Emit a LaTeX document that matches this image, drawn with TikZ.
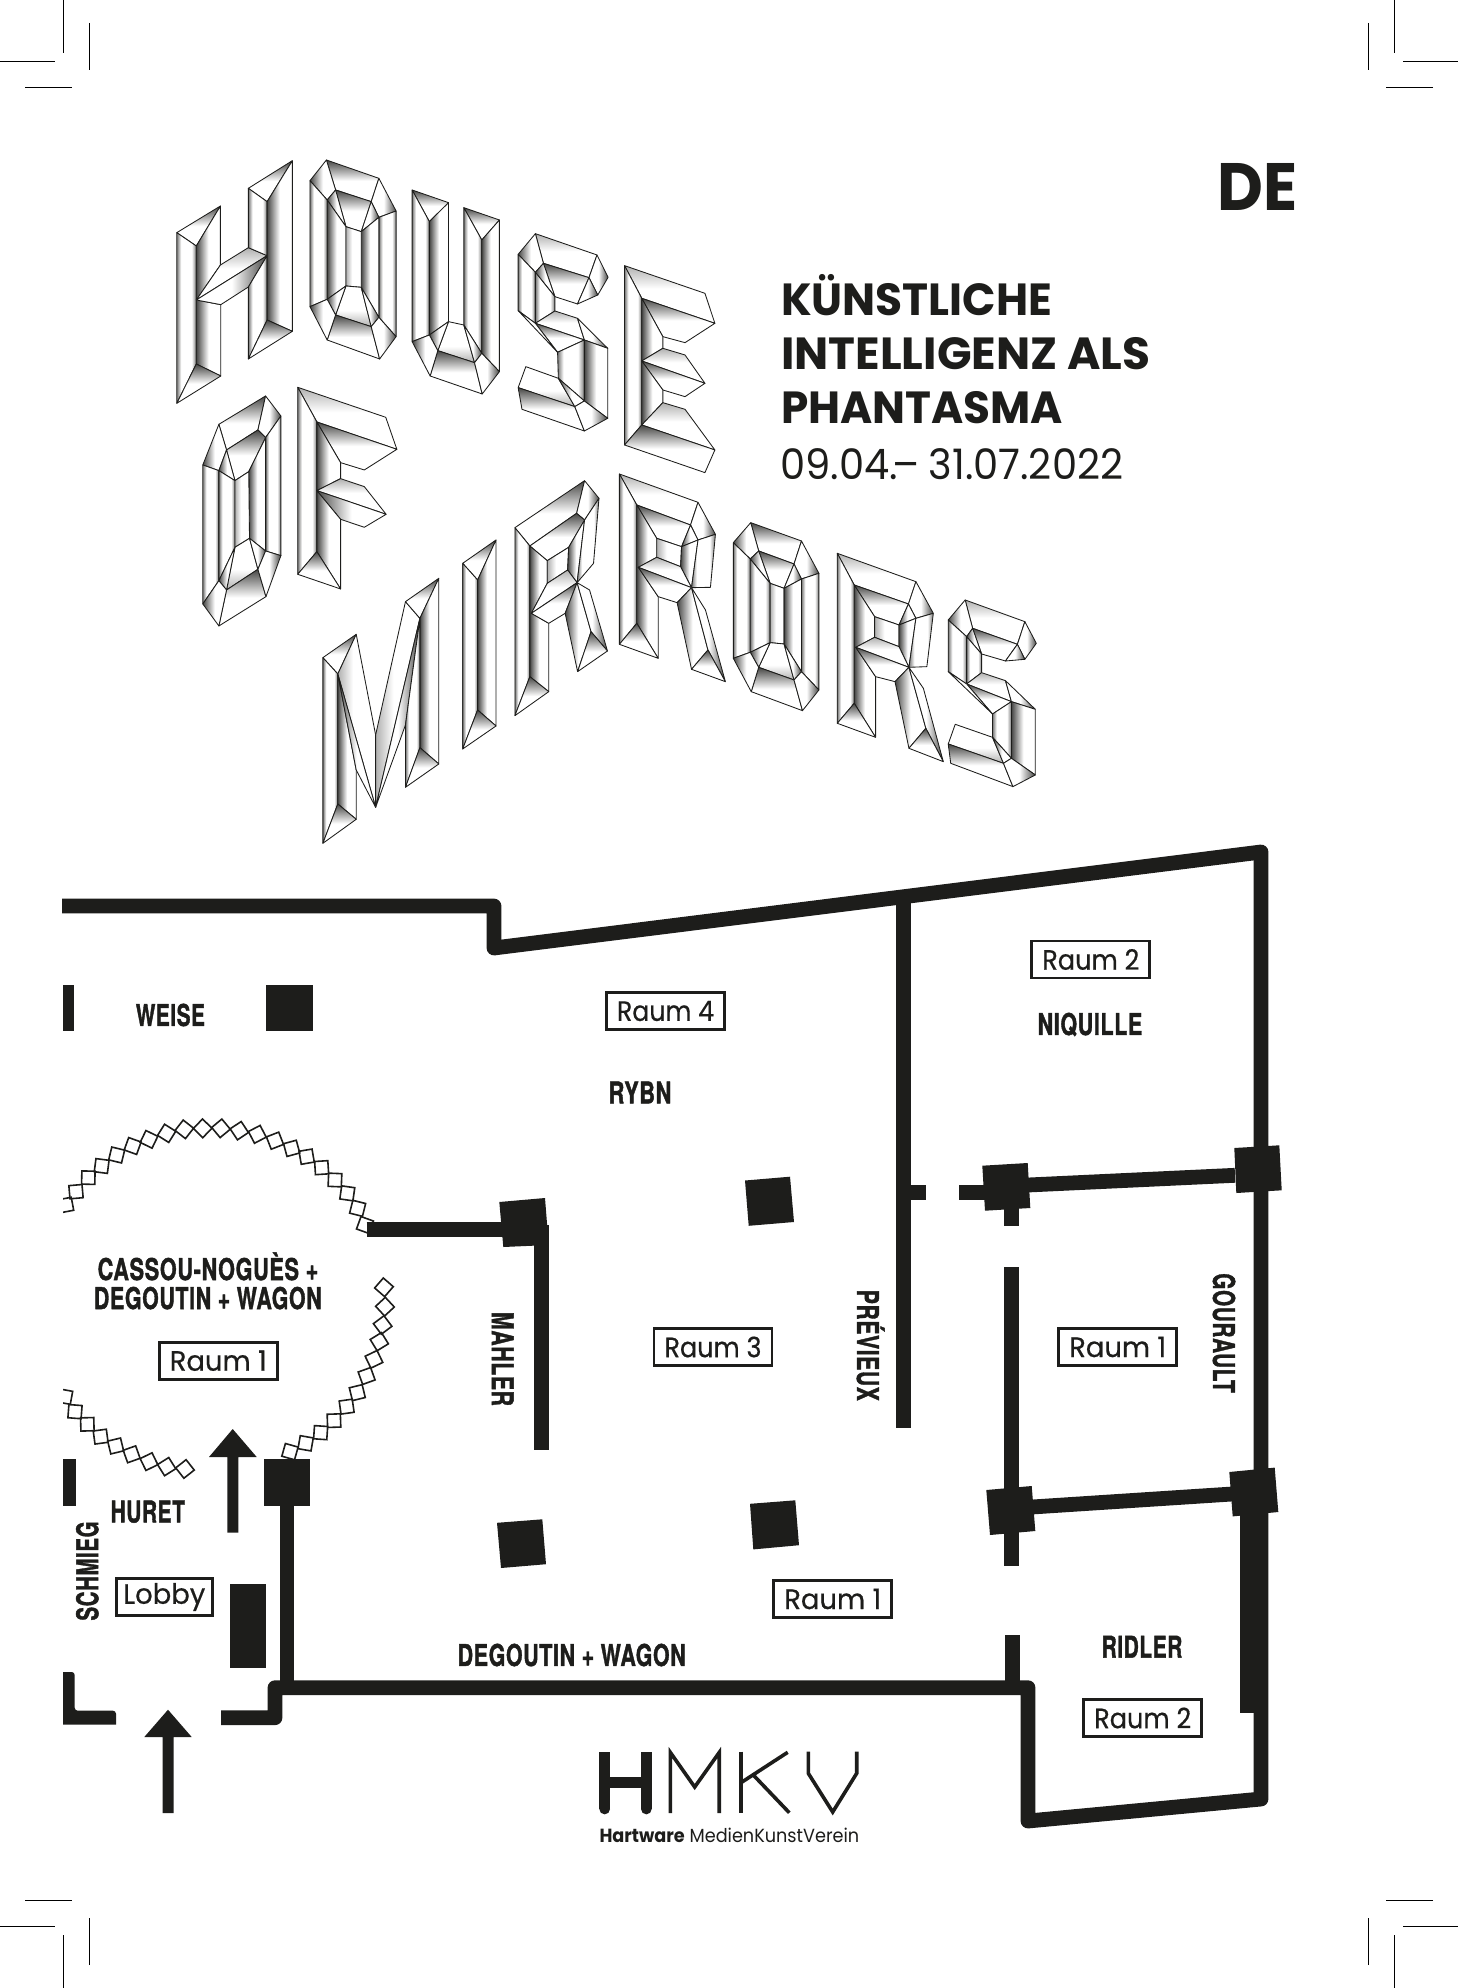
\documentclass[tikz,border=0pt]{standalone}
\usepackage{fontspec}
\usepackage{graphicx}
\setmainfont{Poppins}
\newfontfamily\raumfont[FakeBold=0.5]{Poppins}
\newfontfamily\labfont[Scale=1,LetterSpace=3,BoldFeatures={FakeBold=1.6,LetterSpace=3}]{TeX Gyre Heros}
\definecolor{ink}{HTML}{1D1D1B}
\pgfdeclarehorizontalshading{mirA}{100bp}{color(0bp)=(ink!82!white); color(25bp)=(ink!82!white); color(50bp)=(white); color(100bp)=(white)}
\pgfdeclarehorizontalshading{mirS}{100bp}{color(0bp)=(ink!35!white); color(25bp)=(ink!35!white); color(45bp)=(white); color(100bp)=(white)}
\pgfdeclarehorizontalshading{mirD}{100bp}{color(0bp)=(ink!60!white); color(25bp)=(ink!60!white); color(36bp)=(white); color(63bp)=(white); color(75bp)=(ink!60!white); color(100bp)=(ink!60!white)}
\tikzset{
  facet/.style={draw=ink,line width=0.85pt,line join=round,shade},
  fT/.style={shading=mirA,shading angle=270},
  fB/.style={shading=mirS,shading angle=90},
  fL/.style={shading=mirA,shading angle=0},
  fR/.style={shading=mirA,shading angle=180},
  fD/.style={shading=mirD,shading angle=0},
  fM/.style={shading=mirS,shading angle=270},
  fW/.style={shading=mirS,shading angle=0},
  wall/.style={draw=ink,line width=14.8pt,line join=round,line cap=butt},
  crop/.style={draw=black,line width=1pt},
  diam/.style={draw=ink,line width=1.6pt,line join=miter},
  raum/.style={draw=ink,line width=2.9pt,minimum width=118pt,minimum height=37pt,inner sep=0pt,text=ink},
  lbl/.style={inner sep=0pt,text=ink},
  title/.style={inner sep=0pt,text=ink,anchor=base west},
}
\newcommand\F[2]{\path[facet,#1] plot coordinates {#2} -- cycle;}
\newcommand\lab[2]{\resizebox{#1pt}{\height}{\labfont\bfseries\fontsize{30}{32}\selectfont #2}}
\newcommand\wid[2]{\resizebox{#1pt}{\height}{#2}}
\newcommand\rtxt[2][97]{\resizebox{#1pt}{\height}{\raumfont\fontsize{28}{30}\selectfont #2}}
\begin{document}
\begin{tikzpicture}[x=1pt,y=-1pt]
\useasboundingbox (0,0) rectangle (1458,1988);
\fill[white] (0,0) rectangle (1458,1988);
% crop marks
\foreach \sx/\ox in {1/0,-1/1458}{
 \foreach \sy/\oy in {1/0,-1/1988}{
  \begin{scope}[shift={(\ox,\oy)},x=\sx pt,y=-\sy pt]
   \draw[crop] (63.3,0) -- (63.3,52.7);
   \draw[crop] (0,61.3) -- (55,61.3);
   \draw[crop] (89.3,23) -- (89.3,69.7);
   \draw[crop] (25,87.3) -- (71.7,87.3);
  \end{scope}
 }
}
% ---------- HOUSE OF
\begin{scope}[shift={(150,140)},x=0.3827pt,y=-0.3333pt]
% H
\F{fT}{(70,278) (184,198) (121,318)}
\F{fD}{(70,278) (121,318) (121,672) (70,790)}
\F{fL}{(121,318) (184,198) (184,375) (121,480)}
\F{fL}{(121,480) (185,494) (185,708) (121,672)}
\F{fT}{(121,672) (185,708) (70,790)}
\F{fM}{(121,480) (184,375) (257,323) (306,347)}
\F{fR}{(121,480) (306,347) (257,441) (185,494)}
\F{fT}{(257,145) (372,62) (306,185)}
\F{fD}{(257,145) (306,185) (306,347) (257,323)}
\F{fD}{(257,441) (306,347) (306,540) (257,657)}
\F{fL}{(306,185) (372,62) (372,574) (306,540)}
\F{fT}{(306,540) (372,574) (257,657)}
% O
\F{fT}{(461,60) (598,115) (578,185) (485,150)}
\F{fL}{(418,122) (461,60) (485,150) (463,180)}
\F{fR}{(598,115) (643,213) (598,232) (578,185)}
\F{fD}{(418,122) (463,180) (463,478) (418,500)}
\F{fD}{(598,232) (643,213) (643,590) (598,532)}
\F{fT}{(485,150) (578,185) (552,275) (512,260)}
\F{fL}{(463,180) (485,150) (512,260)}
\F{fR}{(578,185) (598,232) (552,275)}
\F{fL}{(463,180) (512,260) (512,438) (463,478)}
\F{fL}{(552,275) (598,232) (598,532) (552,442)}
\F{fW}{(512,260) (552,275) (552,442) (512,438)}
\F{fB}{(512,438) (552,442) (578,560) (485,525)}
\F{fL}{(463,478) (512,438) (485,525)}
\F{fR}{(552,442) (598,532) (578,560)}
\F{fT}{(485,525) (578,560) (600,657) (463,600)}
\F{fL}{(418,500) (463,478) (485,525) (463,600)}
\F{fR}{(598,532) (643,590) (600,657) (578,560)}
% U
\F{fT}{(685,150) (780,188) (730,245)}
\F{fD}{(685,150) (730,245) (730,585) (685,605)}
\F{fL}{(730,245) (780,188) (780,545) (730,585)}
\F{fT}{(820,203) (913,240) (867,300)}
\F{fD}{(820,203) (867,300) (867,640) (820,555)}
\F{fL}{(867,300) (913,240) (913,695) (867,640)}
\F{fB}{(780,545) (820,555) (848,668) (752,632)}
\F{fL}{(730,585) (780,545) (752,632)}
\F{fR}{(820,555) (867,640) (848,668)}
\F{fT}{(752,632) (848,668) (868,762) (732,708)}
\F{fL}{(685,605) (730,585) (752,632) (732,708)}
\F{fR}{(867,640) (913,695) (868,762) (848,668)}
% S
\F{fM}{(1007,281) (1168,345) (1147,413) (1028,370)}
\F{fL}{(962,343) (1007,281) (1028,370) (1007,397)}
\F{fR}{(1168,345) (1197,412) (1170,465) (1147,413)}
\F{fT}{(1028,370) (1147,413) (1117,492) (1058,470)}
\F{fL}{(1007,397) (1028,370) (1058,470)}
\F{fR}{(1147,413) (1170,465) (1117,492)}
\F{fD}{(962,343) (1007,397) (1007,550) (962,512)}
\F{fD}{(1007,397) (1058,470) (1058,513) (1007,550)}
\F{fM}{(1007,550) (1058,513) (1117,535) (1135,600)}
\F{fT}{(1007,550) (1135,600) (1065,637)}
\F{fD}{(962,512) (1007,550) (1065,637)}
\F{fR}{(1117,535) (1196,625) (1135,600)}
\F{fD}{(1065,637) (1135,600) (1135,783) (1067,715)}
\F{fL}{(1135,600) (1196,625) (1196,835) (1135,783)}
\F{fB}{(982,680) (1067,715) (1110,800) (962,743)}
\F{fT}{(962,743) (1110,800) (1135,873) (972,808)}
\F{fL}{(1067,715) (1135,783) (1110,800)}
\F{fR}{(1110,800) (1135,783) (1196,835) (1135,873)}
% E
\F{fM}{(1240,377) (1450,460) (1476,550) (1285,475)}
\F{fD}{(1240,377) (1285,475) (1285,855) (1240,915)}
\F{fT}{(1285,475) (1476,550) (1398,608) (1340,590)}
\F{fL}{(1285,475) (1340,590) (1340,625) (1285,663)}
\F{fM}{(1285,663) (1340,625) (1398,645) (1450,730)}
\F{fT}{(1285,663) (1450,730) (1398,770) (1340,750)}
\F{fL}{(1285,663) (1340,750) (1340,788) (1285,855)}
\F{fM}{(1285,855) (1340,788) (1398,808) (1476,930)}
\F{fT}{(1240,915) (1285,855) (1476,930) (1450,998)}
% O (OF)
\F{fT}{(180,853) (302,768) (282,870) (200,930)}
\F{fR}{(302,768) (342,828) (302,893) (282,870)}
\F{fL}{(138,975) (180,853) (200,930) (180,992)}
\F{fT}{(200,930) (282,870) (302,893) (258,995) (222,1022)}
\F{fL}{(180,992) (200,930) (222,1022)}
\F{fD}{(138,975) (180,992) (180,1322) (138,1392)}
\F{fD}{(180,992) (222,1022) (222,1222) (180,1322)}
\F{fD}{(302,893) (342,828) (342,1247) (302,1233)}
\F{fL}{(258,995) (302,893) (302,1233) (260,1195)}
\F{fW}{(222,1022) (258,995) (260,1195) (222,1222)}
\F{fB}{(222,1222) (260,1195) (282,1288) (200,1350)}
\F{fL}{(180,1322) (222,1222) (200,1350)}
\F{fR}{(260,1195) (302,1233) (282,1288)}
\F{fT}{(200,1350) (282,1288) (303,1370) (180,1458)}
\F{fL}{(138,1392) (180,1322) (200,1350) (180,1458)}
\F{fR}{(302,1233) (342,1247) (303,1370) (282,1288)}
% F
\F{fM}{(386,742) (616,832) (645,928) (436,846)}
\F{fD}{(386,742) (436,846) (436,1235) (386,1303)}
\F{fT}{(436,846) (645,928) (560,990) (498,968)}
\F{fL}{(436,846) (498,968) (498,1016) (436,1052)}
\F{fM}{(436,1052) (498,1016) (560,1040) (617,1123)}
\F{fL}{(436,1052) (617,1123) (560,1162) (498,1138)}
\F{fL}{(436,1052) (498,1138) (498,1347) (436,1235)}
\F{fT}{(386,1303) (436,1235) (498,1347)}
\end{scope}
% ---------- MIRRORS
\begin{scope}[shift={(300,450)},x=0.4975pt,y=-0.3333pt]
% M
\F{fT}{(46,623) (113,553) (76,672)}
\F{fD}{(46,623) (76,672) (76,1062) (46,1180)}
\F{fL}{(76,672) (113,960) (113,1108) (76,1062)}
\F{fW}{(113,553) (152,855) (152,1072) (76,672)}
\F{fL}{(76,672) (152,1072) (113,960)}
\F{fW}{(212,455) (241,505) (152,1072) (152,855)}
\F{fR}{(241,505) (212,825) (152,1072)}
\F{fT}{(212,455) (279,385) (241,505)}
\F{fL}{(241,505) (279,385) (279,942) (241,893)}
\F{fD}{(241,505) (241,893) (212,1012) (212,825)}
\F{fT}{(241,893) (279,942) (212,1012)}
\F{fT}{(76,1062) (113,1108) (46,1180)}
% I
\F{fT}{(327,340) (394,270) (357,390)}
\F{fD}{(327,340) (357,390) (357,780) (327,897)}
\F{fL}{(357,390) (394,270) (394,828) (357,780)}
\F{fT}{(357,780) (394,828) (327,897)}
% R1
\F{fT}{(432,233) (572,92) (556,190) (462,288)}
\F{fR}{(572,92) (601,145) (572,210) (556,190)}
\F{fT}{(462,288) (556,190) (572,210) (540,292) (497,332)}
\F{fD}{(432,233) (462,288) (462,680) (432,797)}
\F{fL}{(462,288) (497,332) (497,400) (465,490) (500,520) (500,725) (462,680)}
\F{fW}{(497,332) (540,292) (538,360) (497,400)}
\F{fL}{(540,292) (572,210) (557,398) (538,360)}
\F{fD}{(572,210) (601,145) (590,340) (557,398)}
\F{fM}{(465,490) (497,400) (538,360) (557,398)}
\F{fT}{(465,490) (557,398) (533,490) (500,520)}
\F{fL}{(533,490) (557,398) (585,545) (558,665)}
\F{fR}{(557,398) (582,420) (618,603) (585,545)}
\F{fT}{(585,545) (618,603) (558,665)}
\F{fT}{(462,680) (500,725) (432,797)}
% R2
\F{fM}{(642,72) (800,157) (785,225) (677,165)}
\F{fD}{(642,72) (677,165) (677,520) (642,583)}
\F{fR}{(800,157) (835,253) (800,270) (785,225)}
\F{fT}{(677,165) (785,225) (767,290) (717,265)}
\F{fL}{(785,225) (800,270) (767,290)}
\F{fL}{(677,165) (717,265) (717,322) (680,352) (720,440) (720,625) (677,520)}
\F{fW}{(717,265) (767,290) (765,350) (717,322)}
\F{fL}{(767,290) (800,270) (787,413) (765,350)}
\F{fD}{(800,270) (835,253) (825,412) (787,413)}
\F{fM}{(680,352) (717,322) (765,350) (787,413)}
\F{fT}{(680,352) (787,413) (758,458) (720,440)}
\F{fL}{(758,458) (787,413) (820,600) (787,658)}
\F{fR}{(787,413) (815,480) (855,695) (820,600)}
\F{fT}{(787,658) (820,600) (855,695)}
\F{fT}{(642,583) (677,520) (720,625)}
% O3
\F{fT}{(906,218) (1008,273) (993,342) (922,303)}
\F{fL}{(871,278) (906,218) (922,303) (905,327)}
\F{fR}{(1008,273) (1043,370) (1008,387) (993,342)}
\F{fT}{(922,303) (993,342) (973,415) (945,400)}
\F{fL}{(905,327) (922,303) (945,400)}
\F{fR}{(993,342) (1008,387) (973,415)}
\F{fD}{(871,278) (905,327) (905,607) (871,625)}
\F{fD}{(905,327) (945,400) (945,578) (905,607)}
\F{fW}{(945,400) (973,415) (973,582) (945,578)}
\F{fL}{(973,415) (1008,387) (1008,665) (973,582)}
\F{fD}{(1008,387) (1043,370) (1043,720) (1008,665)}
\F{fB}{(945,578) (973,582) (993,690) (922,652)}
\F{fL}{(905,607) (945,578) (922,652)}
\F{fR}{(973,582) (1008,665) (993,690)}
\F{fT}{(922,652) (993,690) (1010,782) (907,725)}
\F{fL}{(871,625) (905,607) (922,652) (907,725)}
\F{fR}{(1008,665) (1043,720) (1010,782) (993,690)}
% R4
\F{fM}{(1080,310) (1238,395) (1223,462) (1114,405)}
\F{fD}{(1080,310) (1114,405) (1114,760) (1080,820)}
\F{fR}{(1238,395) (1273,490) (1238,505) (1223,462)}
\F{fT}{(1114,405) (1223,462) (1204,525) (1155,500)}
\F{fL}{(1223,462) (1238,505) (1204,525)}
\F{fL}{(1114,405) (1155,500) (1155,562) (1117,592) (1157,680) (1157,862) (1114,760)}
\F{fW}{(1155,500) (1204,525) (1204,590) (1155,562)}
\F{fL}{(1204,525) (1238,505) (1224,652) (1204,590)}
\F{fD}{(1238,505) (1273,490) (1260,650) (1224,652)}
\F{fM}{(1117,592) (1155,562) (1204,590) (1224,652)}
\F{fT}{(1117,592) (1224,652) (1196,695) (1157,680)}
\F{fL}{(1196,695) (1224,652) (1258,835) (1224,895)}
\F{fR}{(1224,652) (1253,715) (1293,935) (1258,835)}
\F{fT}{(1224,895) (1258,835) (1293,935)}
\F{fT}{(1080,820) (1114,760) (1157,862)}
% S5
\F{fM}{(1337,450) (1457,515) (1442,583) (1352,535)}
\F{fL}{(1303,510) (1337,450) (1352,535) (1340,560)}
\F{fR}{(1457,515) (1480,580) (1457,628) (1442,583)}
\F{fT}{(1352,535) (1442,583) (1418,633) (1370,612)}
\F{fL}{(1340,560) (1352,535) (1370,612)}
\F{fR}{(1442,583) (1457,628) (1418,633)}
\F{fD}{(1303,510) (1340,560) (1340,702) (1303,665)}
\F{fD}{(1340,560) (1370,612) (1370,668) (1340,702)}
\F{fM}{(1340,702) (1370,668) (1418,692) (1430,755)}
\F{fT}{(1340,702) (1430,755) (1392,792)}
\F{fD}{(1303,665) (1340,702) (1392,792)}
\F{fR}{(1418,692) (1478,778) (1430,755)}
\F{fD}{(1392,792) (1430,755) (1430,925) (1392,862)}
\F{fL}{(1430,755) (1478,778) (1478,975) (1430,925)}
\F{fB}{(1317,823) (1392,862) (1414,940) (1303,882)}
\F{fT}{(1303,882) (1414,940) (1433,1010) (1308,940)}
\F{fL}{(1392,862) (1430,925) (1414,940)}
\F{fR}{(1414,940) (1430,925) (1478,975) (1433,1010)}
\end{scope}
% ---------- Title texts
\node[title] (de) at (1217,210.7) {\wid{80}{\bfseries\fontsize{67}{70}\selectfont DE}};
\node[title] (t1) at (781,315) {\wid{271}{\bfseries\fontsize{45}{50}\selectfont KÜNSTLICHE}};
\node[title] (t2) at (781,369) {\wid{369}{\bfseries\fontsize{45}{50}\selectfont INTELLIGENZ ALS}};
\node[title] (t3) at (781,423.3) {\wid{282}{\bfseries\fontsize{45}{50}\selectfont PHANTASMA}};
\node[title] (t4) at (780,479.3) {\wid{343}{\fontsize{42}{46}\selectfont 09.04.\kern-.12em–\kern-.05em\ 31.07.2022}};
% ---------- Diamond screen
\begin{scope}
\clip (63,0) rectangle (1458,1988);
\begin{scope}[shift={(50,1090)},x=0.3333pt,y=-0.3333pt]
\foreach \x/\y in {48/345,78/305,115/263,155/228,200/195,248/168,297/148,350/130,403/118,458/115,513/115,568/122,622/133,675/152,725/175,770/200,815/233,855/270,892/310,923/355,945/405,
 1002/592,1005/650,998/705,988/755,972/808,950/858,922/908,890/950,852/992,812/1028,767/1060,720/1085,
 405/1137,350/1130,297/1115,245/1093,197/1068,152/1040,112/1003,75/965,45/920}{
  \pgfmathsetmacro\a{atan2(630-\y,\x-465)}
  \draw[diam,shift={(\x,\y)},rotate=\a] (-28,0) -- (0,28) -- (28,0) -- (0,-28) -- cycle;
}
\end{scope}
\end{scope}
% ---------- Walls
\draw[wall] (221,1717.7) -- (275,1717.7) -- (275,1687.7) -- (1028,1687.7) -- (1028,1821) -- (1261,1799) -- (1261,852) -- (494,948) -- (494,906) -- (62,906);
\draw[wall] (903.5,900) -- (903.5,1428);
\draw[wall] (911,1192.5) -- (926,1192.5);
\draw[wall] (959,1192.5) -- (1000,1192.5);
\draw[wall] (1011.5,1190) -- (1011.5,1225.7);
\draw[wall] (1011.5,1267) -- (1011.5,1566);
\draw[wall] (1012.5,1635) -- (1012.5,1688);
\draw[wall] (1028,1185) -- (1235,1175.3);
\draw[wall] (1032,1507) -- (1232,1494);
\draw[wall] (366.7,1229.5) -- (505,1229.5);
\draw[wall] (541.5,1225) -- (541.5,1450);
\draw[wall] (287,1500) -- (287,1688);
% thick wall by RIDLER
\fill[ink] (1240,1500) rectangle (1268,1713);
% piers and pillars
\fill[ink] (982.3,1165.7) -- (1027.7,1163) -- (1030.3,1208) -- (985,1210.7) -- cycle;
\fill[ink] (1234.3,1148) -- (1279.3,1145.3) -- (1281.7,1190.3) -- (1236.3,1193) -- cycle;
\fill[ink] (986.3,1490) -- (1031.7,1486) -- (1035.3,1531) -- (990,1535) -- cycle;
\fill[ink] (1229.3,1472) -- (1274.7,1467.6) -- (1278.3,1512) -- (1232.7,1516.4) -- cycle;
\fill[ink] (499.3,1202) -- (545,1198) -- (548.7,1245) -- (503.3,1247) -- cycle;
\fill[ink] (745,1180.5) -- (790,1176.7) -- (794,1222) -- (748.7,1225.8) -- cycle;
\fill[ink] (750,1503.8) -- (795.3,1500.3) -- (799,1545.2) -- (753.3,1549.4) -- cycle;
\fill[ink] (497,1522.8) -- (542.3,1519.3) -- (546,1564.2) -- (501,1568) -- cycle;
\fill[ink] (62.7,985) rectangle (74,1031);
\fill[ink] (265.7,985) rectangle (312.7,1031);
\fill[ink] (264,1459) rectangle (310,1506);
\fill[ink] (63,1459) rectangle (76,1506);
\fill[ink] (230,1584) rectangle (266,1667.7);
\fill[ink,rounded corners=3pt] (63,1672) -- (74.7,1672) -- (74.7,1710.7) -- (116,1710.7) [sharp corners] -- (116,1724.7) -- (63,1724.7) -- cycle;
% arrows
\fill[ink] (232.7,1429) -- (256.7,1457) -- (238.3,1457) -- (238.3,1532.7) -- (227.3,1532.7) -- (227.3,1457) -- (209,1457) -- cycle;
\fill[ink] (168,1709.7) -- (191.7,1737) -- (173.7,1737) -- (173.7,1813) -- (162.7,1813) -- (162.7,1737) -- (144.3,1737) -- cycle;
% ---------- Room boxes
\node[raum] (r1a) at (218.3,1360.7) {\rtxt{Raum 1}};
\node[raum] (r4) at (665.5,1011) {\rtxt{Raum 4}};
\node[raum] (r2a) at (1090.8,959.5) {\rtxt{Raum 2}};
\node[raum] (r3) at (713,1347) {\rtxt{Raum 3}};
\node[raum] (r1b) at (832.8,1599) {\rtxt{Raum 1}};
\node[raum] (r1c) at (1117.7,1347) {\rtxt{Raum 1}};
\node[raum] (r2b) at (1142.7,1718) {\rtxt{Raum 2}};
\node[raum,minimum width=96pt] (lobby) at (164.3,1597) {\rtxt[82]{Lobby}};
% ---------- Artist labels
\node[lbl] (weise) at (170.4,1015) {\lab{69}{WEISE}};
\node[lbl] (rybn) at (640,1092.5) {\lab{62.7}{RYBN}};
\node[lbl] (niq) at (1090,1024.5) {\lab{104.7}{NIQUILLE}};
\node[lbl,anchor=base] (cas) at (208,1280) {\lab{220.7}{CASSOU-NOGUÈS +}};
\node[lbl,anchor=base] (deg) at (207.8,1309) {\lab{227.7}{DEGOUTIN + WAGON}};
\node[lbl,rotate=-90] (mah) at (502.7,1359) {\lab{94}{MAHLER}};
\node[lbl,rotate=-90,anchor=base] (pre) at (857,1345.3) {\lab{111}{PRÉVIEUX}};
\node[lbl,rotate=-90] (gou) at (1224,1333) {\lab{119.5}{GOURAULT}};
\node[lbl,rotate=90] (sch) at (87.3,1571) {\lab{99}{SCHMIEG}};
\node[lbl] (hur) at (147.8,1511.7) {\lab{74.3}{HURET}};
\node[lbl] (deg2) at (571.7,1655) {\lab{228}{DEGOUTIN + WAGON}};
\node[lbl] (rid) at (1142,1646.7) {\lab{80.6}{RIDLER}};
% ---------- HMKV logo
\fill[ink] (599.3,1751.7) rectangle (610,1809);
\fill[ink] (604.65,1809) circle (5.35);
\fill[ink] (641,1751.7) rectangle (651.7,1809);
\fill[ink] (646.35,1809) circle (5.35);
\fill[ink] (605,1776.7) rectangle (646,1788.3);
\draw[ink,line width=3.6pt,line join=miter] (670.4,1813) -- (670.4,1752.5) -- (694.7,1787) -- (719.2,1752.5) -- (719.2,1813);
\draw[ink,line width=3.6pt] (740.9,1751.7) -- (740.9,1813);
\draw[ink,line width=3.6pt] (787.7,1752.3) -- (742,1782);
\draw[ink,line width=3.6pt] (753.3,1775) -- (789.3,1812.7);
\draw[ink,line width=3.6pt,line join=miter] (808.3,1751.7) -- (808.3,1773.3) -- (832.7,1812) -- (856.7,1773.3) -- (856.7,1751.7);
\node[title] (hw) at (599.3,1842.7) {\wid{259.7}{\fontsize{19}{21}\selectfont\textbf{Hartware} MedienKunstVerein}};
\end{tikzpicture}
\end{document}
